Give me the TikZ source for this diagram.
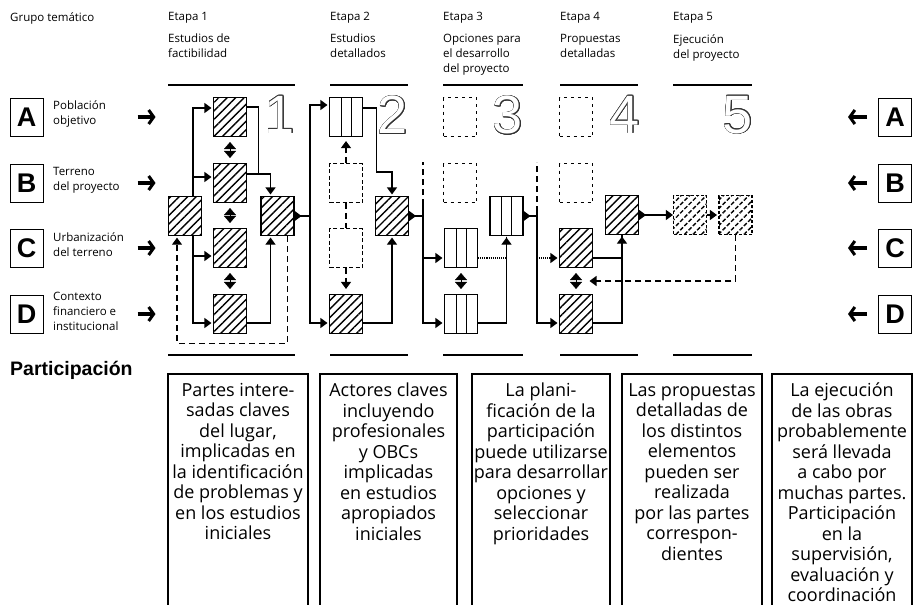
\documentclass[tikz,border=0pt]{standalone}
\usepackage{fontspec}
\setmainfont{Open Sans}
\newfontfamily\arialf{Liberation Sans}
\usepackage{contour}
\contourlength{0.6pt}
\usetikzlibrary{arrows.meta,patterns.meta,calc}
\tikzset{
  cell/.style={draw,line width=1.1pt,minimum width=33pt,minimum height=39pt,inner sep=0pt,preaction={fill=white}},
  hatch/.style={cell,pattern={Lines[angle=45,distance=6pt,line width=1.4pt]}},
  stripe/.style={cell,path picture={\foreach \f in {.36,.66}
    \draw[line width=.9pt] ($(path picture bounding box.south west)!\f!(path picture bounding box.south east)$)
      -- ($(path picture bounding box.north west)!\f!(path picture bounding box.north east)$);}},
  ghost/.style={cell,line width=.8pt,dash pattern=on 3pt off 4pt},
  wire/.style={line width=1.1pt},
  arr/.style={-{Triangle[length=7pt,width=10pt]},shorten >=1.5pt},
  arr2/.style={{Triangle[length=7pt,width=10pt]}-{Triangle[length=7pt,width=10pt]},shorten >=1.5pt,shorten <=1.5pt},
  outarr/.style={{Triangle[reversed,length=7pt,width=10pt]}-},
  outarr2/.style={{Triangle[reversed,length=7pt,width=10pt]}-{Triangle[length=7pt,width=10pt]}},
  dbl/.style={{Triangle[length=7pt,width=12pt]}-{Triangle[length=7pt,width=12pt]},shorten <=5pt,shorten >=5pt},
  fb/.style={dash pattern=on 6pt off 4pt},
  stagebar/.style={line width=2.6pt},
  bigarr/.style={line width=3.2pt,-{Straight Barb[length=5pt,width=14pt,line width=3pt]}},
  letter/.style={draw,line width=1pt,minimum width=33pt,minimum height=38pt,inner sep=0pt,font=\arialf\bfseries\fontsize{27}{27}\selectfont},
  grp/.style={anchor=west,align=left,inner sep=0pt,font=\fontsize{11.5}{15}\selectfont},
  hd/.style={anchor=west,inner sep=0pt,font=\fontsize{11.5}{15}\selectfont},
  ptext/.style={anchor=north,align=center,inner sep=0pt,font=\fontsize{18}{20.5}\selectfont},
  digit/.style={anchor=north east,inner sep=0pt,font=\arialf\fontsize{54}{54}\selectfont},
}
\begin{document}
\begin{tikzpicture}[x=1pt,y=-1pt]
\useasboundingbox (0,0) rectangle (921,605);
\node[hd] (grp) at (10,18) {Grupo temático};
\foreach \n/\x/\t in {1/168/{Estudios de\\factibilidad},2/330/{Estudios\\detallados},3/443/{Opciones para\\el desarrollo\\del proyecto},4/560/{Propuestas\\detalladas},5/673/{Ejecución\\del proyecto}}{
  \node[hd] (et\n) at (\x,18) {Etapa \n};
  \node[grp,anchor=north west] (tt\n) at (\x,34) {\t};}
\foreach \a/\b in {168/295,330/408,443/523,560/638,673/752}{
  \draw[stagebar] (\a,85) -- (\b,85); \draw[stagebar] (\a,355) -- (\b,355);}
\foreach \r/\y/\t in {A/117/{Población\\objetivo},B/183/{Terreno\\del proyecto},C/248/{Urbanización\\del terreno},D/314/{Contexto\\financiero e\\institucional}}{
  \node[letter] (l\r) at (26.5,\y) {\r};
  \node[grp] (g\r) at (53,\y-3) {\t};
  \node[letter] (r\r) at (895,\y) {\r};
  \draw[bigarr] ([xshift=94pt]l\r.east) -- ++(18,0);
  \draw[bigarr] ([xshift=-11pt]r\r.west) -- ++(-19,0);}
\foreach \n/\x in {1/295,2/408,3/523,4/640,5/753}
  \node[digit] (d\n) at (\x,96) {\contour{black!80}{\textcolor{white}{\n}}};
% etapa 1
\node[hatch] (s1L) at (185,216) {};
\foreach \r/\y in {A/117,B/183,C/248,D/314} \node[hatch] (s1\r) at (230,\y) {};
\node[hatch] (s1R) at (277.5,216) {};
\draw[wire,arr] ([xshift=8pt]s1L.north) |- ([yshift=9pt]s1A.west);
\draw[wire,arr] ([xshift=8pt]s1L.north) |- ([yshift=6pt]s1B.west);
\draw[wire,arr] ([xshift=8pt]s1L.south) |- ([yshift=-8pt]s1C.west);
\draw[wire,arr] ([xshift=8pt]s1L.south) |- ([yshift=-9pt]s1D.west);
\foreach \u/\v in {A/B,B/C,C/D} \draw[dbl] (s1\u.south) -- (s1\v.north);
\coordinate (m1) at ($(s1B.east)+(11.5,-9)$);
\draw[wire] ([yshift=10pt]s1A.east) -| (m1);
\draw[wire,arr] ([yshift=9pt]s1B.east) -| ([xshift=-7pt]s1R.north);
\draw[wire,arr] ([yshift=-9pt]s1D.east) -| ([xshift=-7pt]s1R.south);
\draw[wire,fb,arr] ([xshift=10pt]s1R.south) -- ++(0,107) -| ([xshift=-8pt]s1L.south);
\coordinate (k2) at (310,216);
\draw[wire,outarr] (s1R.east) -- (k2);
% etapa 2
\node[stripe] (s2A) at (346,117) {};
\foreach \r/\y in {B/183,C/248} \node[ghost,dash pattern=on 4pt off 2.5pt] (s2\r) at (346,\y) {};
\node[hatch] (s2D) at (346,314) {};
\node[hatch] (s2R) at (392,216) {};
\draw[wire,arr2] ([yshift=12pt]s2A.west) -| (k2) |- ([yshift=-9pt]s2D.west);
\draw[wire,fb,arr,shorten >=4pt] (s2B.north) -- (s2A.south);
\draw[wire,fb] (s2B.south) -- (s2C.north);
\draw[wire,fb,arr,shorten >=5pt] (s2C.south) -- (s2D.north);
\draw[wire,arr] ([yshift=9pt]s2A.east) -| ++(13,64) -| (s2R.north);
\draw[wire,arr] ([yshift=-9pt]s2D.east) -| (s2R.south);
\coordinate (k3) at (423,205);
\draw[wire,outarr] (s2R.east) -- (s2R.east -| k3);
% etapa 3
\foreach \r/\y in {A/117,B/183} \node[ghost] (s3\r) at (460,\y) {};
\foreach \r/\y in {C/248,D/314} \node[stripe] (s3\r) at (461,\y) {};
\node[stripe] (s3R) at (506.5,216) {};
\draw[wire,fb] (k3) -- ++(0,-43);
\draw[wire,arr2] ([yshift=-10pt]s3C.west) -| (k3) |- ([yshift=-9pt]s3D.west);
\draw[dbl] (s3C.south) -- (s3D.north);
\draw[wire,densely dotted] ([yshift=-10pt]s3C.east) -| (s3R.south);
\draw[wire,arr] ([yshift=-9pt]s3D.east) -| (s3R.south);
\coordinate (k4) at (537,212);
\draw[wire,outarr] (s3R.east) -- (s3R.east -| k4);
% etapa 4
\foreach \r/\y in {A/117,B/183} \node[ghost] (s4\r) at (576,\y) {};
\foreach \r/\y in {C/248,D/314} \node[hatch] (s4\r) at (576,\y) {};
\node[hatch] (s4R) at (622,215) {};
\draw[wire,fb] (k4) -- ++(0,-50);
\draw[wire,arr] (k4) |- ([yshift=-9pt]s4D.west);
\draw[wire,densely dotted,arr] ($(s4C.west)+(-20,10)$) -- ($(s4C.west)+(0,10)$);
\draw[dbl] (s4C.south) -- (s4D.north);
\draw[wire,arr] ([yshift=-10pt]s4C.east) -| (s4R.south);
\draw[wire] ([yshift=-9pt]s4D.east) -| (s4R.south);
% etapa 5
\node[hatch,dash pattern=on 3pt off 2pt] (s5a) at (690,215) {};
\node[hatch,dash pattern=on 3pt off 2pt] (s5b) at (735.5,215) {};
\draw[wire,outarr2] (s4R) -- (s5a);
\draw[wire,arr] (s5a) -- (s5b);
\coordinate (m4) at ($(s4C.south)!.5!(s4D.north)$);
\draw[wire,fb,arr] (s5b.south) |- ([xshift=12pt]m4);
% participacion
\node[anchor=west,inner sep=0pt,font=\arialf\bfseries\fontsize{19.5}{20}\selectfont] (part) at (10,370) {Participación};
\foreach \a/\b in {168/308,320/457,472/610,622/762,772/912}
  \draw[line width=1.1pt] (\a,605) |- (\b,374) -- (\b,605);
\node[ptext] (p1) at (238,383) {Partes intere-\\sadas claves\\del lugar,\\implicadas en\\la identificación\\de problemas y\\en los estudios\\iniciales};
\node[ptext] (p2) at (388.5,383) {Actores claves\\incluyendo\\profesionales\\y OBCs\\implicadas\\en estudios\\apropiados\\iniciales};
\node[ptext] (p3) at (541,383) {La plani-\\ficación de la\\participación\\puede utilizarse\\para desarrollar\\opciones y\\seleccionar\\prioridades};
\node[ptext] (p4) at (692,383) {Las propuestas\\detalladas de\\los distintos\\elementos\\pueden ser\\realizada\\por las partes\\correspon-\\dientes};
\node[ptext] (p5) at (842,383) {La ejecución\\de las obras\\probablemente\\será llevada\\a cabo por\\muchas partes.\\Participación\\en la\\supervisión,\\evaluación y\\coordinación};
\end{tikzpicture}
\end{document}
